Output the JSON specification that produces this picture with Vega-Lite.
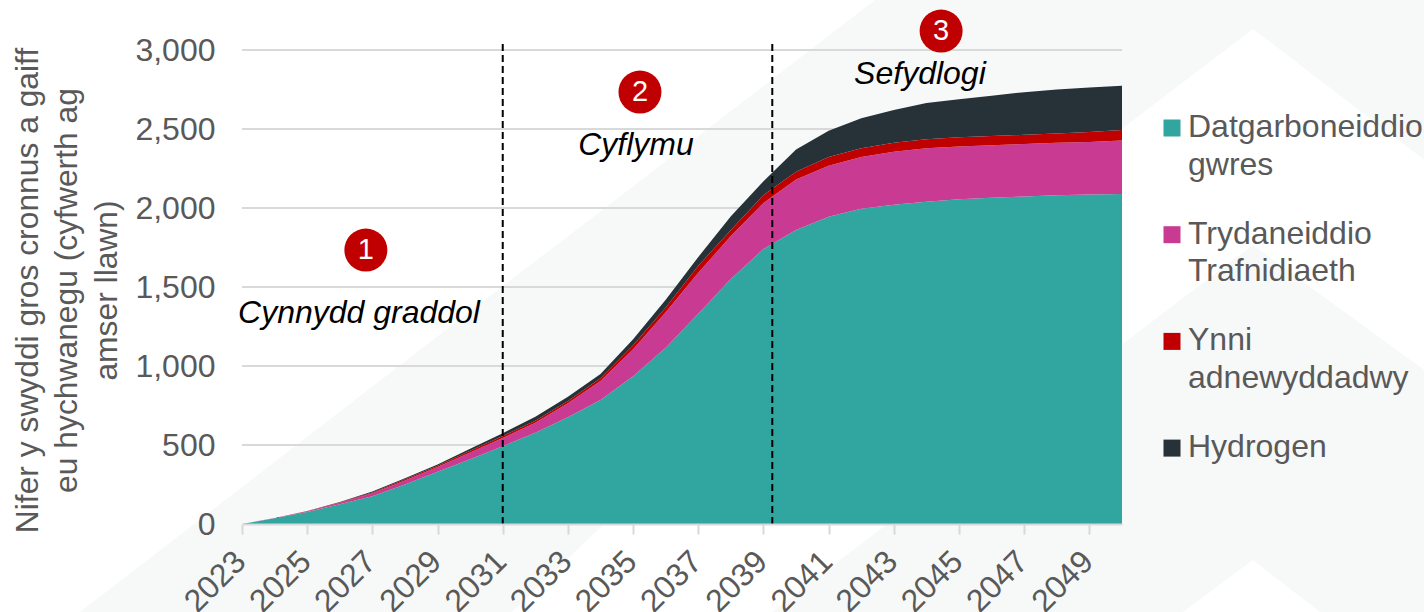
{
"$schema":"https://vega.github.io/schema/vega-lite/v6.json",
"autosize":"none","width":880,"height":474,
"padding":{"left":242,"top":50,"right":302,"bottom":88},
"background":"#ffffff",
"config":{"view":{"stroke":null},"font":"Liberation Sans"},
"datasets":{
"jobs":[
{"year":2023,"s":"Datgarboneiddio gwres","k":1,"v":0},{"year":2023,"s":"Trydaneiddio Trafnidiaeth","k":2,"v":0},{"year":2023,"s":"Ynni adnewyddadwy","k":3,"v":0},{"year":2023,"s":"Hydrogen","k":4,"v":0},
{"year":2024,"s":"Datgarboneiddio gwres","k":1,"v":36},{"year":2024,"s":"Trydaneiddio Trafnidiaeth","k":2,"v":1.5},{"year":2024,"s":"Ynni adnewyddadwy","k":3,"v":0.5},{"year":2024,"s":"Hydrogen","k":4,"v":0.5},
{"year":2025,"s":"Datgarboneiddio gwres","k":1,"v":76},{"year":2025,"s":"Trydaneiddio Trafnidiaeth","k":2,"v":4},{"year":2025,"s":"Ynni adnewyddadwy","k":3,"v":1.5},{"year":2025,"s":"Hydrogen","k":4,"v":0.5},
{"year":2026,"s":"Datgarboneiddio gwres","k":1,"v":125},{"year":2026,"s":"Trydaneiddio Trafnidiaeth","k":2,"v":10},{"year":2026,"s":"Ynni adnewyddadwy","k":3,"v":3},{"year":2026,"s":"Hydrogen","k":4,"v":2},
{"year":2027,"s":"Datgarboneiddio gwres","k":1,"v":176},{"year":2027,"s":"Trydaneiddio Trafnidiaeth","k":2,"v":18},{"year":2027,"s":"Ynni adnewyddadwy","k":3,"v":6},{"year":2027,"s":"Hydrogen","k":4,"v":5},
{"year":2028,"s":"Datgarboneiddio gwres","k":1,"v":250},{"year":2028,"s":"Trydaneiddio Trafnidiaeth","k":2,"v":25},{"year":2028,"s":"Ynni adnewyddadwy","k":3,"v":8},{"year":2028,"s":"Hydrogen","k":4,"v":7},
{"year":2029,"s":"Datgarboneiddio gwres","k":1,"v":330},{"year":2029,"s":"Trydaneiddio Trafnidiaeth","k":2,"v":30},{"year":2029,"s":"Ynni adnewyddadwy","k":3,"v":8},{"year":2029,"s":"Hydrogen","k":4,"v":8},
{"year":2030,"s":"Datgarboneiddio gwres","k":1,"v":410},{"year":2030,"s":"Trydaneiddio Trafnidiaeth","k":2,"v":42},{"year":2030,"s":"Ynni adnewyddadwy","k":3,"v":12},{"year":2030,"s":"Hydrogen","k":4,"v":13},
{"year":2031,"s":"Datgarboneiddio gwres","k":1,"v":492},{"year":2031,"s":"Trydaneiddio Trafnidiaeth","k":2,"v":52},{"year":2031,"s":"Ynni adnewyddadwy","k":3,"v":13},{"year":2031,"s":"Hydrogen","k":4,"v":18},
{"year":2032,"s":"Datgarboneiddio gwres","k":1,"v":578},{"year":2032,"s":"Trydaneiddio Trafnidiaeth","k":2,"v":63},{"year":2032,"s":"Ynni adnewyddadwy","k":3,"v":13},{"year":2032,"s":"Hydrogen","k":4,"v":25},
{"year":2033,"s":"Datgarboneiddio gwres","k":1,"v":675},{"year":2033,"s":"Trydaneiddio Trafnidiaeth","k":2,"v":90},{"year":2033,"s":"Ynni adnewyddadwy","k":3,"v":13},{"year":2033,"s":"Hydrogen","k":4,"v":28},
{"year":2034,"s":"Datgarboneiddio gwres","k":1,"v":785},{"year":2034,"s":"Trydaneiddio Trafnidiaeth","k":2,"v":120},{"year":2034,"s":"Ynni adnewyddadwy","k":3,"v":18},{"year":2034,"s":"Hydrogen","k":4,"v":27},
{"year":2035,"s":"Datgarboneiddio gwres","k":1,"v":935},{"year":2035,"s":"Trydaneiddio Trafnidiaeth","k":2,"v":171},{"year":2035,"s":"Ynni adnewyddadwy","k":3,"v":26},{"year":2035,"s":"Hydrogen","k":4,"v":38},
{"year":2036,"s":"Datgarboneiddio gwres","k":1,"v":1115},{"year":2036,"s":"Trydaneiddio Trafnidiaeth","k":2,"v":225},{"year":2036,"s":"Ynni adnewyddadwy","k":3,"v":30},{"year":2036,"s":"Hydrogen","k":4,"v":50},
{"year":2037,"s":"Datgarboneiddio gwres","k":1,"v":1330},{"year":2037,"s":"Trydaneiddio Trafnidiaeth","k":2,"v":260},{"year":2037,"s":"Ynni adnewyddadwy","k":3,"v":45},{"year":2037,"s":"Hydrogen","k":4,"v":55},
{"year":2038,"s":"Datgarboneiddio gwres","k":1,"v":1550},{"year":2038,"s":"Trydaneiddio Trafnidiaeth","k":2,"v":272},{"year":2038,"s":"Ynni adnewyddadwy","k":3,"v":38},{"year":2038,"s":"Hydrogen","k":4,"v":87},
{"year":2039,"s":"Datgarboneiddio gwres","k":1,"v":1740},{"year":2039,"s":"Trydaneiddio Trafnidiaeth","k":2,"v":292},{"year":2039,"s":"Ynni adnewyddadwy","k":3,"v":50},{"year":2039,"s":"Hydrogen","k":4,"v":88},
{"year":2040,"s":"Datgarboneiddio gwres","k":1,"v":1860},{"year":2040,"s":"Trydaneiddio Trafnidiaeth","k":2,"v":320},{"year":2040,"s":"Ynni adnewyddadwy","k":3,"v":50},{"year":2040,"s":"Hydrogen","k":4,"v":140},
{"year":2041,"s":"Datgarboneiddio gwres","k":1,"v":1945},{"year":2041,"s":"Trydaneiddio Trafnidiaeth","k":2,"v":322},{"year":2041,"s":"Ynni adnewyddadwy","k":3,"v":56},{"year":2041,"s":"Hydrogen","k":4,"v":166},
{"year":2042,"s":"Datgarboneiddio gwres","k":1,"v":1995},{"year":2042,"s":"Trydaneiddio Trafnidiaeth","k":2,"v":328},{"year":2042,"s":"Ynni adnewyddadwy","k":3,"v":55},{"year":2042,"s":"Hydrogen","k":4,"v":190},
{"year":2043,"s":"Datgarboneiddio gwres","k":1,"v":2020},{"year":2043,"s":"Trydaneiddio Trafnidiaeth","k":2,"v":336},{"year":2043,"s":"Ynni adnewyddadwy","k":3,"v":57},{"year":2043,"s":"Hydrogen","k":4,"v":207},
{"year":2044,"s":"Datgarboneiddio gwres","k":1,"v":2040},{"year":2044,"s":"Trydaneiddio Trafnidiaeth","k":2,"v":338},{"year":2044,"s":"Ynni adnewyddadwy","k":3,"v":57},{"year":2044,"s":"Hydrogen","k":4,"v":229},
{"year":2045,"s":"Datgarboneiddio gwres","k":1,"v":2055},{"year":2045,"s":"Trydaneiddio Trafnidiaeth","k":2,"v":335},{"year":2045,"s":"Ynni adnewyddadwy","k":3,"v":57},{"year":2045,"s":"Hydrogen","k":4,"v":241},
{"year":2046,"s":"Datgarboneiddio gwres","k":1,"v":2065},{"year":2046,"s":"Trydaneiddio Trafnidiaeth","k":2,"v":332},{"year":2046,"s":"Ynni adnewyddadwy","k":3,"v":58},{"year":2046,"s":"Hydrogen","k":4,"v":256},
{"year":2047,"s":"Datgarboneiddio gwres","k":1,"v":2073},{"year":2047,"s":"Trydaneiddio Trafnidiaeth","k":2,"v":332},{"year":2047,"s":"Ynni adnewyddadwy","k":3,"v":58},{"year":2047,"s":"Hydrogen","k":4,"v":270},
{"year":2048,"s":"Datgarboneiddio gwres","k":1,"v":2080},{"year":2048,"s":"Trydaneiddio Trafnidiaeth","k":2,"v":333},{"year":2048,"s":"Ynni adnewyddadwy","k":3,"v":58},{"year":2048,"s":"Hydrogen","k":4,"v":279},
{"year":2049,"s":"Datgarboneiddio gwres","k":1,"v":2085},{"year":2049,"s":"Trydaneiddio Trafnidiaeth","k":2,"v":332},{"year":2049,"s":"Ynni adnewyddadwy","k":3,"v":64},{"year":2049,"s":"Hydrogen","k":4,"v":281},
{"year":2050,"s":"Datgarboneiddio gwres","k":1,"v":2088},{"year":2050,"s":"Trydaneiddio Trafnidiaeth","k":2,"v":339},{"year":2050,"s":"Ynni adnewyddadwy","k":3,"v":67},{"year":2050,"s":"Hydrogen","k":4,"v":279}
],
"bg":[
{"g":"A","year":2018.03,"v":-557,"v2":-557},{"g":"A","year":2031.28,"v":1551,"v2":-557},{"g":"A","year":2033.98,"v":1975,"v2":-25},{"g":"A","year":2042.42,"v":3316,"v2":1310},{"g":"A","year":2054.02,"v":3316,"v2":3133},{"g":"A","year":2059.27,"v":3316,"v2":2304},
{"g":"B","year":2039.26,"v":-557,"v2":-557},{"g":"B","year":2051.87,"v":1430,"v2":-557},{"g":"B","year":2054.02,"v":1766,"v2":-228},{"g":"B","year":2056.07,"v":1456,"v2":-557},{"g":"B","year":2059.27,"v":975,"v2":-557}
],
"grid":[{"v":500},{"v":1000},{"v":1500},{"v":2000},{"v":2500},{"v":3000}],
"phase":[{"year":2031,"v":0,"v2":3044},{"year":2039.27,"v":0,"v2":3044}],
"badges":[{"year":2026.80,"v":1734,"n":"1"},{"year":2035.21,"v":2734,"n":"2"},{"year":2044.45,"v":3120,"n":"3"}],
"names":[{"year":2026.59,"v":1336,"t":"Cynnydd graddol"},{"year":2035.09,"v":2399,"t":"Cyflymu"},{"year":2043.80,"v":2848,"t":"Sefydlogi"}]
},
"layer":[
{"data":{"name":"bg"},"mark":{"type":"area","color":"#f7f8f8","clip":false},
 "encoding":{"detail":{"field":"g"},
  "x":{"field":"year","type":"quantitative","scale":{"domain":[2023,2050],"nice":false,"zero":false},
   "axis":{"title":null,"values":[2023,2024,2025,2026,2027,2028,2029,2030,2031,2032,2033,2034,2035,2036,2037,2038,2039,2040,2041,2042,2043,2044,2045,2046,2047,2048,2049,2050],"format":"d","labelExpr":"datum.value % 2 == 1 ? datum.label : ''","labelOverlap":false,"labelAngle":-45,"labelAlign":"right","labelBaseline":"middle","labelFontSize":32,"labelColor":"#595959","labelPadding":22,"labelOffset":-2,"labelBound":false,"labelFlush":false,"grid":false,"tickColor":"#d9d9d9","tickWidth":2,"tickSize":10,"domainColor":"#d9d9d9","domainWidth":2,"zindex":1}},
  "y":{"field":"v","type":"quantitative","stack":null,"scale":{"domain":[0,3000],"nice":false},
   "axis":{"title":["Nifer y swyddi gros cronnus a gaiff","eu hychwanegu (cyfwerth ag","amser llawn)"],"titleFontSize":31.8,"titleFontWeight":"normal","titleColor":"#595959","titleLineHeight":39.5,"titleX":-198,"titleY":240,"values":[0,500,1000,1500,2000,2500,3000],"format":",d","labelFontSize":32,"labelColor":"#595959","labelPadding":27,"labelBound":false,"labelFlush":false,"domain":false,"ticks":false,"grid":false,"zindex":1}},
  "y2":{"field":"v2"}}},
{"data":{"name":"grid"},"mark":{"type":"rule","color":"#d9d9d9","strokeWidth":2},
 "encoding":{"y":{"field":"v","type":"quantitative"}}},
{"data":{"name":"jobs"},"mark":{"type":"area"},
 "encoding":{
  "x":{"field":"year","type":"quantitative"},
  "y":{"field":"v","type":"quantitative","stack":"zero"},
  "order":{"field":"k","type":"quantitative"},
  "color":{"field":"s","type":"nominal","sort":["Datgarboneiddio gwres","Trydaneiddio Trafnidiaeth","Ynni adnewyddadwy","Hydrogen"],
   "scale":{"domain":["Datgarboneiddio gwres","Trydaneiddio Trafnidiaeth","Ynni adnewyddadwy","Hydrogen"],"range":["#31a59f","#c93b93","#c00000","#263238"]},
   "legend":{"title":null,"orient":"none","legendX":914,"legendY":62,"symbolType":"square","symbolSize":289,"symbolOpacity":1,"symbolStrokeWidth":0,"labelFontSize":32,"labelColor":"#595959","labelLimit":400,"labelOffset":0,"rowPadding":36.7,"labelBaseline":"top","labelExpr":"indexof(datum.label,' ')>0 ? split(datum.label,' ') : datum.label","encode":{"labels":{"update":{"dy":{"value":-16},"lineHeight":{"value":37.5}}}}}}}},
{"data":{"name":"phase"},"mark":{"type":"rule","color":"#000000","strokeWidth":2,"strokeDash":[7,4],"clip":false},
 "encoding":{"x":{"field":"year","type":"quantitative"},"y":{"field":"v","type":"quantitative"},"y2":{"field":"v2"}}},
{"data":{"name":"badges"},"mark":{"type":"point","shape":"circle","filled":true,"color":"#c00000","opacity":1,"size":1849,"clip":false},
 "encoding":{"x":{"field":"year","type":"quantitative"},"y":{"field":"v","type":"quantitative"}}},
{"data":{"name":"badges"},"mark":{"type":"text","color":"#ffffff","fontSize":29,"baseline":"middle","align":"center"},
 "encoding":{"x":{"field":"year","type":"quantitative"},"y":{"field":"v","type":"quantitative"},"text":{"field":"n"}}},
{"data":{"name":"names"},"mark":{"type":"text","color":"#000000","fontSize":32,"fontStyle":"italic","baseline":"middle","align":"center"},
 "encoding":{"x":{"field":"year","type":"quantitative"},"y":{"field":"v","type":"quantitative"},"text":{"field":"t"}}}
]
}
